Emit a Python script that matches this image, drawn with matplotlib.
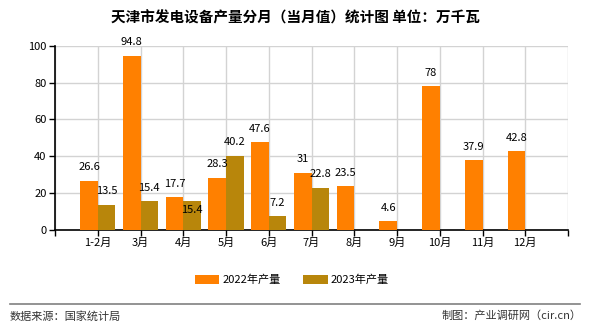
import matplotlib
matplotlib.use('Agg')
from matplotlib import pyplot as plt
import numpy as np

plt.rcParams['font.family'] = ['Noto Sans CJK SC', 'DejaVu Sans']

months = ['1-2月', '3月', '4月', '5月', '6月', '7月', '8月', '9月', '10月', '11月', '12月']
prod_2022 = [26.6, 94.8, 17.7, 28.3, 47.6, 31, 23.5, 4.6, 78, 37.9, 42.8]
prod_2023 = [13.5, 15.4, 15.4, 40.2, 7.2, 22.8]

c22 = '#ff8000'
c23 = '#b8860b'
w = 0.41

fig = plt.figure(figsize=(5.9, 3.3), dpi=100)
ax = fig.add_axes([55 / 590, 1 - 229.5 / 330, 513 / 590, (229.5 - 46) / 330])

x = np.arange(len(months))
x23 = np.arange(len(prod_2023))
b1 = ax.bar(x - w / 2, prod_2022, w, color=c22, label='2022年产量', zorder=3)
b2 = ax.bar(x23 + w / 2, prod_2023, w, color=c23, label='2023年产量', zorder=3)

for xi, v in zip(x - w / 2, prod_2022):
    ax.annotate(f'{v:g}', (xi, v), xytext=(0, 6), textcoords='offset points',
                ha='center', va='bottom', fontsize=8, zorder=4)
for i, (xi, v) in enumerate(zip(x23 + w / 2, prod_2023)):
    # the 4月 label sits inside the bar in the original, to dodge 17.7
    dy, va = (-3, 'top') if i == 2 else (6, 'bottom')
    ax.annotate(f'{v:g}', (xi, v), xytext=(0, dy), textcoords='offset points',
                ha='center', va=va, fontsize=8, zorder=4)

ax.set_xlim(-1, len(months))
ax.set_ylim(0, 100)
ax.set_yticks([0, 20, 40, 60, 80, 100])
ax.set_xticks(np.arange(-1, len(months) + 1))
ax.set_xticklabels([''] + months + [''])
ax.tick_params(axis='both', labelsize=8, length=4, width=1, color='black', pad=2)
ax.grid(True, color='#d3d3d3', linewidth=1, zorder=0)
for s in ['top', 'right']:
    ax.spines[s].set_visible(False)
for s in ['left', 'bottom']:
    ax.spines[s].set_linewidth(1.2)

fig.text(0.5, 1 - 18 / 330, '天津市发电设备产量分月（当月值）统计图 单位：万千瓦',
         ha='center', va='center', fontsize=10.5, fontweight='bold')

fig.legend(handles=[b1, b2], loc='center', bbox_to_anchor=(0.495, 1 - 280 / 330),
           ncol=2, frameon=False, fontsize=8, handlelength=2.2, handleheight=0.9,
           columnspacing=2.0, handletextpad=0.3)

fig.add_artist(plt.Line2D([10 / 590, 580 / 590], [1 - 304 / 330] * 2, color='#808080', linewidth=1.2))
fig.text(10 / 590, 1 - 316 / 330, '数据来源：国家统计局', ha='left', va='center', fontsize=8, color='#333333')
fig.text(582 / 590, 1 - 316 / 330, '制图：产业调研网（cir.cn）', ha='right', va='center', fontsize=8, color='#333333')

fig.savefig('out.png', dpi=100)
